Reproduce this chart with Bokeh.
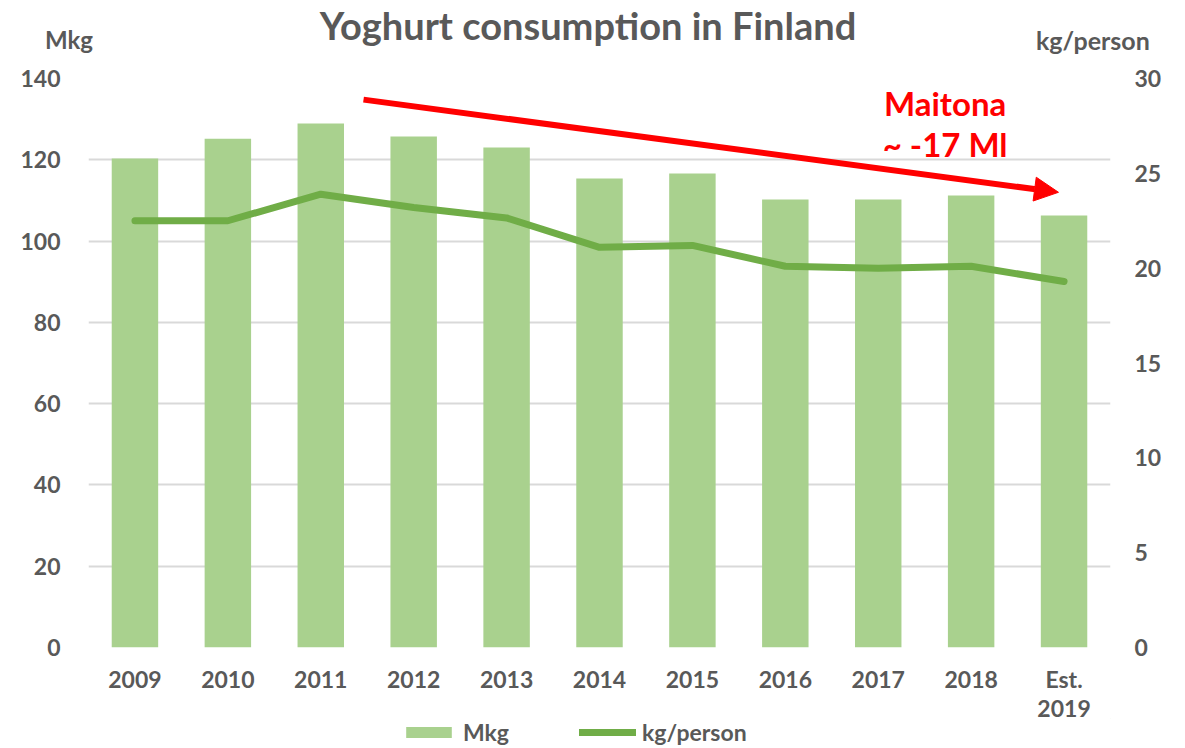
from bokeh.plotting import figure
from bokeh.layouts import column
from bokeh.models import (Range1d, LinearAxis, FixedTicker, Label, Arrow, NormalHead,
                          Legend, LegendItem, ColumnDataSource, Div)
from bokeh.embed import file_html
from bokeh.resources import INLINE

# ---- data ----
categories = ["2009", "2010", "2011", "2012", "2013", "2014", "2015", "2016", "2017", "2018", "Est.\n2019"]
mkg = [120.3, 125.2, 128.9, 125.7, 123.0, 115.4, 116.6, 110.2, 110.2, 111.2, 106.3]
kg_person = [22.5, 22.5, 23.9, 23.2, 22.65, 21.1, 21.2, 20.1, 20.0, 20.1, 19.3]
left_ticks = [0, 20, 40, 60, 80, 100, 120, 140]
right_ticks = [0, 5, 10, 15, 20, 25, 30]

title_text = "Yoghurt consumption in Finland"
left_name = "Mkg"
right_name = "kg/person"
legend_labels = ["Mkg", "kg/person"]

# annotation anchors (data coordinates)
arrow_start = (2.46, 134.8)
arrow_end = (9.94, 112.0)
note_lines = ["Maitona", "~ -17 Ml"]
note_x = 8.72
note_y = [134.0, 123.8]

FONT = "Lato"
GREY = "#595959"
BAR = "#A9D18E"
LINE = "#70AD47"
RED = "#FF0000"

HEADER_H = 62
FIG_W = 1169

# ---- header strip (title + axis names) as real HTML text ----
header_html = (
    f'<div style="position:relative;width:{FIG_W}px;height:{HEADER_H}px;font-family:Lato,sans-serif;'
    f'font-weight:bold;color:{GREY};white-space:nowrap;">'
    f'<span style="position:absolute;left:0;width:1176px;top:4px;line-height:42px;text-align:center;'
    f'font-size:38px;">{title_text}</span>'
    f'<span style="position:absolute;left:45px;top:26px;line-height:28px;font-size:24px;">{left_name}</span>'
    f'<span style="position:absolute;left:1036px;top:26px;line-height:28px;font-size:25px;">{right_name}</span>'
    f'</div>'
)
h = Div(text=header_html, width=FIG_W, height=HEADER_H, margin=0)

# ---- main chart ----
xs = list(range(len(categories)))
src = ColumnDataSource(dict(x=xs, mkg=mkg, kg=kg_person))

p = figure(frame_width=1022, frame_height=569, output_backend="svg", toolbar_location=None,
           x_range=Range1d(-0.5, len(categories) - 0.5), y_range=Range1d(0, 140),
           min_border_left=88, min_border_right=59, min_border_top=16, min_border_bottom=0)
p.extra_y_ranges = {"right": Range1d(0, 30)}
p.outline_line_color = None

p.xaxis.ticker = FixedTicker(ticks=xs)
p.xaxis.major_label_overrides = {i: c for i, c in enumerate(categories)}
p.yaxis.ticker = FixedTicker(ticks=left_ticks)
right_axis = LinearAxis(y_range_name="right", ticker=FixedTicker(ticks=right_ticks))
p.add_layout(right_axis, "right")
for ax in [p.xaxis[0], p.yaxis[0], right_axis]:
    ax.axis_line_color = None
    ax.major_tick_line_color = None
    ax.minor_tick_line_color = None
    ax.major_tick_out = 0
    ax.major_tick_in = 0
    ax.minor_tick_out = 0
    ax.minor_tick_in = 0
    ax.major_label_text_font = FONT
    ax.major_label_text_font_style = "bold"
    ax.major_label_text_font_size = "23px"
    ax.major_label_text_color = GREY
p.xaxis.major_label_standoff = 17
p.xaxis.major_label_text_line_height = 1.05
p.yaxis[0].major_label_standoff = 28
right_axis.major_label_standoff = 24

p.xgrid.grid_line_color = None
p.ygrid.grid_line_color = "#D9D9D9"
p.ygrid.grid_line_width = 2

# white box behind the note
p.quad(left=7.79, right=9.65, bottom=128.4, top=150, fill_color="white", line_color=None)

bars = p.vbar(x="x", top="mkg", width=0.5, source=src, fill_color=BAR, line_color=None)
line = p.line(x="x", y="kg", source=src, y_range_name="right", line_color=LINE,
              line_width=7, line_cap="round", line_join="round")

p.add_layout(Arrow(x_start=arrow_start[0], y_start=arrow_start[1], x_end=arrow_end[0], y_end=arrow_end[1],
                   line_color=RED, line_width=6,
                   end=NormalHead(size=24, fill_color=RED, line_color=RED)))

for t, yy in zip(note_lines, note_y):
    p.add_layout(Label(x=note_x, y=yy, text=t, text_align="center", text_baseline="middle",
                       text_font=FONT, text_font_style="bold", text_font_size="33px", text_color=RED))

# ---- legend strip (transparent, slightly overlapping; proxy renderers sit outside its range) ----
f = figure(width=FIG_W, height=32, output_backend="svg", toolbar_location=None,
           x_range=Range1d(0, 1), y_range=Range1d(0, 1),
           min_border_left=88, min_border_right=59, min_border_top=0, min_border_bottom=0,
           outline_line_color=None, margin=(-6, 0, 0, 0))
f.background_fill_alpha = 0
f.border_fill_alpha = 0
f.axis.visible = False
f.grid.visible = False
lg_bar = f.vbar(x=[5], top=[5], bottom=[4], width=0.5, fill_color=BAR, line_color=None)
lg_line = f.line(x=[5, 6], y=[5, 5], line_color=LINE, line_width=7, line_cap="round")
legend = Legend(items=[LegendItem(label=legend_labels[0], renderers=[lg_bar]),
                       LegendItem(label=legend_labels[1], renderers=[lg_line])],
                orientation="horizontal", location=(312, 4),
                glyph_width=57, glyph_height=14, label_standoff=6, spacing=70, label_height=20,
                padding=0, margin=0, border_line_color=None, background_fill_alpha=0,
                label_text_font=FONT, label_text_font_style="bold", label_text_font_size="23px",
                label_text_line_height=1.0, label_text_color=GREY)
f.add_layout(legend, "center")

layout = column(h, p, f, spacing=0)
open("out.html", "w").write(file_html(layout, INLINE))
